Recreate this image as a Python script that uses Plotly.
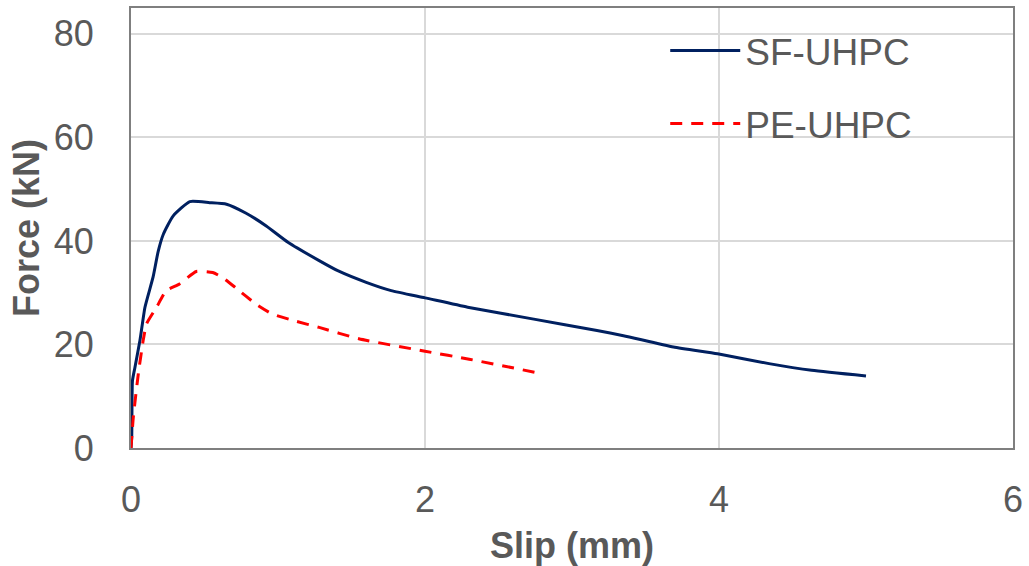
import plotly.graph_objects as go

sf_x = [0, 0.005, 0.01, 0.027, 0.061, 0.095, 0.15, 0.185, 0.22, 0.286, 0.40, 0.535, 0.65, 0.78, 0.92,
        1.07, 1.28, 1.41, 1.60, 1.77, 2.0, 2.29, 2.74, 3.17, 3.35, 3.69, 3.99, 4.34, 4.63, 5.0]
sf_y = [0, 2.2, 13, 15.6, 20.8, 27.2, 33, 38, 41.3, 44.8, 47.6, 47.4, 47.1, 45.4, 42.9,
        39.7, 36.2, 34.2, 32.0, 30.4, 29.0, 27.2, 24.9, 22.7, 21.7, 19.5, 18.2, 16.3, 15.0, 13.9]

pe_x = [0, 0.016, 0.05, 0.083, 0.106, 0.174, 0.24, 0.33, 0.444, 0.556, 0.624, 0.71, 0.85, 0.96,
        1.12, 1.28, 1.55, 2.0, 2.31, 2.77]
pe_y = [0, 6, 14.4, 20.8, 24, 27.2, 30.4, 31.7, 34.1, 33.9, 32.9, 31, 27.8, 25.9,
        24.5, 23.3, 21.1, 18.7, 17.1, 14.5]

x_ticks = [0, 2, 4, 6]
y_ticks = [0, 20, 40, 60, 80]

FONT = "Liberation Sans, Arial, sans-serif"
GRAY = "#595959"

fig = go.Figure()
fig.add_trace(go.Scatter(x=sf_x, y=sf_y, mode="lines", name="SF-UHPC", legendgroup="a",
                         line=dict(color="#002060", width=3, shape="spline", smoothing=0.5)))
fig.add_trace(go.Scatter(x=pe_x, y=pe_y, mode="lines", name="PE-UHPC", legendgroup="b",
                         line=dict(color="#FF0000", width=3, dash="12px,9px",
                                   shape="spline", smoothing=0.5)))

fig.update_layout(
    width=1029, height=566,
    margin=dict(l=131, r=12, t=6, b=118),
    paper_bgcolor="white", plot_bgcolor="white",
    font=dict(family=FONT, size=36, color=GRAY),
    showlegend=True,
    legend=dict(x=0.6057, y=0.973, xanchor="left", yanchor="top", bgcolor="rgba(0,0,0,0)",
                font=dict(size=37, color=GRAY), tracegroupgap=22, itemwidth=70),
    xaxis=dict(range=[0, 6], tickvals=x_ticks, showgrid=True, gridcolor="#d9d9d9", gridwidth=1.5,
               showline=True, linecolor="#7f7f7f", linewidth=2, mirror=True, zeroline=False,
               ticks="", ticklabelstandoff=19,
               title=dict(text="<b>Slip (mm)</b>", font=dict(size=36, color=GRAY), standoff=14)),
    yaxis=dict(range=[0, 85], tickvals=y_ticks, showgrid=True, gridcolor="#d9d9d9", gridwidth=1.5,
               showline=True, linecolor="#7f7f7f", linewidth=2, mirror=True, zeroline=False,
               ticks="", ticklabelstandoff=28,
               title=dict(text="<b>Force (kN)</b>", font=dict(size=36, color=GRAY), standoff=3)),
)

fig.write_html("out.html")
